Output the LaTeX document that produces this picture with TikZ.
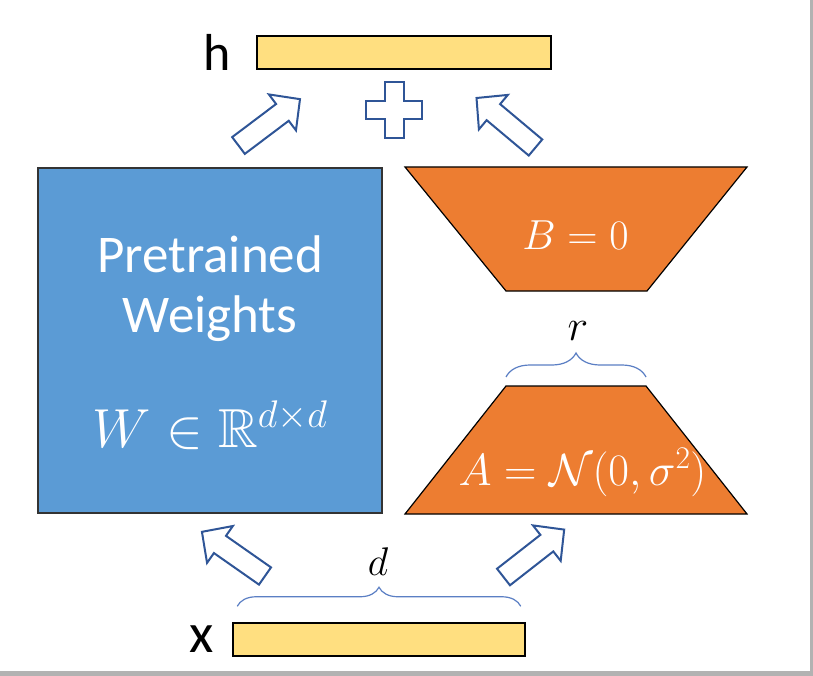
\RequirePackage{fix-cm}
\documentclass[tikz,border=0pt]{standalone}
\usepackage{amssymb}
\DeclareFontFamily{U}{msb}{}
\DeclareFontShape{U}{msb}{m}{n}{<-> msbm10}{}
\usepackage{fontspec}
\newfontfamily\calibri{Carlito}
\usepackage{tikz}
\usetikzlibrary{positioning,calc,decorations.pathreplacing}
\definecolor{wblue}{HTML}{5B9BD5}
\definecolor{lorange}{HTML}{ED7D31}
\definecolor{vecyellow}{HTML}{FFDF80}
\definecolor{arrowblue}{HTML}{2F5597}
\definecolor{braceblue}{HTML}{5B7FC4}
\tikzset{
  fatarrow/.pic={
    \draw[arrowblue,line width=2pt,fill=white,line join=miter]
      (0,-10.5) -- (55,-10.5) -- (55,-22.5) -- (77,0) -- (55,22.5)
      -- (55,10.5) -- (0,10.5) -- cycle;}
}

\begin{document}
\begin{tikzpicture}[x=1pt,y=-1pt,
    node distance=18pt,
    vec/.style={draw=black,line width=1.5pt,fill=vecyellow,
                minimum width=294pt,minimum height=33pt,inner sep=0pt},
    matrixbox/.style={draw=black!80,line width=1.2pt,fill=wblue,
                minimum width=344pt,minimum height=345pt,inner sep=0pt},
    lowrank/.style={draw=black,line width=1.2pt,fill=lorange},
    wtext/.style={text=white,anchor=base,inner sep=0pt},
    vlabel/.style={inner sep=0pt,font=\calibri\fontsize{52}{60}\selectfont},
    brace/.style={draw=braceblue,line width=1.2pt,
                decorate,decoration={brace,amplitude=#1}},
    plusline/.style={draw=arrowblue,line width=2pt,fill=white}]
  % frame with shadow
  \useasboundingbox (0,0) rectangle (813,676);
  \fill[gray!60] (0,0) rectangle (813,676);
  \fill[white] (0,0) rectangle (810,671);

  % vectors
  \node[vec] (hbar) at (404,52.5) {};
  \node[vec,minimum width=292pt] (xbar) at (379,639.5) {};
  \node[vlabel,left=25pt of hbar] (hlab) {h};
  \node[vlabel,left=18pt of xbar,font=\calibri\fontsize{56}{60}\selectfont] (xlab) {x};

  % frozen weights
  \node[matrixbox] (weights) at (210,340.5) {};
  \node[wtext,font=\calibri\fontsize{53}{60}\selectfont] (pre) at (210,272) {Pretrained};
  \node[wtext,font=\calibri\fontsize{53}{60}\selectfont] (wts) at (210,332) {Weights};
  \node[wtext,font=\fontsize{55}{60}\selectfont] (wdim) at (210,447)
    {$W \in \mathbb{R}^{d\times d}$};

  % low-rank update
  \coordinate (Btl) at (405,167);
  \coordinate (Btr) at (747,167);
  \coordinate (Bbr) at (647,291);
  \coordinate (Bbl) at (506,291);
  \draw[lowrank] (Btl) -- (Btr) -- (Bbr) -- (Bbl) -- cycle;
  \node[wtext,font=\fontsize{42}{48}\selectfont] (Bmat) at (575.5,250) {$B = 0$};

  \coordinate (Atl) at (506,386);
  \coordinate (Atr) at (646,386);
  \coordinate (Abr) at (747,514);
  \coordinate (Abl) at (405,514);
  \draw[lowrank] (Atl) -- (Atr) -- (Abr) -- (Abl) -- cycle;
  \node[wtext,font=\fontsize{45}{50}\selectfont] (Amat) at (582.5,485)
    {$A = \mathcal{N}(0,\sigma^2)$};

  % braces
  \draw[brace=24pt] ($(Atl)+(0,-9)$) -- ($(Atr)+(0,-9)$);
  \node[anchor=base,inner sep=0pt,font=\fontsize{44}{50}\selectfont] (rlab) at (578,340) {$r$};
  \draw[brace=19pt] ($(xbar.north west)+(5,-16)$) -- ($(xbar.north east)+(-5,-16)$);
  \node[anchor=base,inner sep=0pt,font=\fontsize{40}{44}\selectfont] (dlab) at (378,575) {$d$};

  % block arrows and plus
  \pic[rotate=37]  at (238.5,145.5) {fatarrow};
  \pic[rotate=140] at (535.5,147.5) {fatarrow};
  \pic[rotate=145] at (265,576)     {fatarrow};
  \pic[rotate=38]  at (503.5,577)   {fatarrow};
  \draw[plusline,shift={(394,110.5)}]
    (-9.5,-28) -- (9.5,-28) -- (9.5,-9) -- (28,-9) -- (28,9) -- (9.5,9)
    -- (9.5,28) -- (-9.5,28) -- (-9.5,9) -- (-28,9) -- (-28,-9) -- (-9.5,-9) -- cycle;
\end{tikzpicture}
\end{document}
